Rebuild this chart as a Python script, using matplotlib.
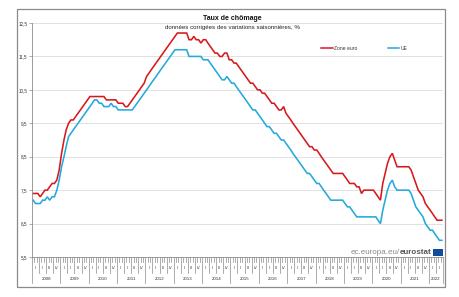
import numpy as np
import pandas as pd
import matplotlib
matplotlib.use("Agg")
import matplotlib.pyplot as plt
import matplotlib.dates as mdates
from matplotlib.lines import Line2D
from matplotlib.patches import Rectangle

plt.rcParams["font.family"] = ["Liberation Sans", "DejaVu Sans"]

# ── Data (monthly, Jan 2008 – Jun 2022) ──────────────────────────────────────
zone_euro = [
    7.4, 7.4, 7.4, 7.3, 7.4, 7.5, 7.5, 7.6, 7.7, 7.7, 7.8, 8.1,          # 2008
    8.6, 9.0, 9.3, 9.5, 9.6, 9.6, 9.7, 9.8, 9.9, 10.0, 10.1, 10.2,       # 2009
    10.3, 10.3, 10.3, 10.3, 10.3, 10.3, 10.3, 10.2, 10.2, 10.2, 10.2, 10.2,  # 2010
    10.1, 10.1, 10.1, 10.0, 10.0, 10.1, 10.2, 10.3, 10.4, 10.5, 10.6, 10.7,  # 2011
    10.9, 11.0, 11.1, 11.2, 11.3, 11.4, 11.5, 11.6, 11.7, 11.8, 11.9, 12.0,  # 2012
    12.1, 12.2, 12.2, 12.2, 12.2, 12.2, 12.0, 12.0, 12.1, 12.0, 12.0, 11.9,  # 2013
    12.0, 12.0, 11.9, 11.8, 11.7, 11.6, 11.6, 11.5, 11.5, 11.6, 11.6, 11.4,  # 2014
    11.4, 11.3, 11.3, 11.2, 11.1, 11.0, 10.9, 10.8, 10.7, 10.7, 10.6, 10.5,  # 2015
    10.5, 10.4, 10.4, 10.3, 10.2, 10.1, 10.1, 10.0, 9.9, 9.9, 10.0, 9.8,     # 2016
    9.7, 9.6, 9.5, 9.4, 9.3, 9.2, 9.1, 9.0, 8.9, 8.8, 8.8, 8.7,          # 2017
    8.7, 8.6, 8.5, 8.4, 8.3, 8.2, 8.1, 8.0, 8.0, 8.0, 8.0, 8.0,          # 2018
    7.9, 7.8, 7.7, 7.7, 7.7, 7.6, 7.6, 7.4, 7.5, 7.5, 7.5, 7.5,          # 2019
    7.5, 7.4, 7.3, 7.2, 7.7, 8.0, 8.3, 8.5, 8.6, 8.4, 8.2, 8.2,          # 2020
    8.2, 8.2, 8.2, 8.2, 8.1, 7.9, 7.7, 7.5, 7.4, 7.3, 7.1, 7.0,          # 2021
    6.9, 6.8, 6.7, 6.6, 6.6, 6.6,                                        # 2022
]
ue = [
    7.2, 7.1, 7.1, 7.1, 7.2, 7.2, 7.3, 7.2, 7.3, 7.3, 7.5, 7.8,          # 2008
    8.2, 8.5, 8.8, 9.1, 9.2, 9.3, 9.4, 9.5, 9.6, 9.7, 9.8, 9.9,          # 2009
    10.0, 10.1, 10.2, 10.2, 10.1, 10.1, 10.0, 10.0, 10.0, 10.1, 10.0, 10.0,  # 2010
    9.9, 9.9, 9.9, 9.9, 9.9, 9.9, 9.9, 10.0, 10.1, 10.2, 10.3, 10.4,     # 2011
    10.5, 10.6, 10.7, 10.8, 10.9, 11.0, 11.1, 11.2, 11.3, 11.4, 11.5, 11.6,  # 2012
    11.7, 11.7, 11.7, 11.7, 11.7, 11.7, 11.5, 11.5, 11.5, 11.5, 11.5, 11.5,  # 2013
    11.4, 11.4, 11.4, 11.3, 11.2, 11.1, 11.0, 10.9, 10.8, 10.8, 10.9, 10.8,  # 2014
    10.7, 10.7, 10.6, 10.5, 10.4, 10.3, 10.2, 10.1, 10.0, 9.9, 9.9, 9.8,     # 2015
    9.7, 9.6, 9.5, 9.4, 9.4, 9.3, 9.2, 9.2, 9.1, 9.0, 9.0, 8.9,          # 2016
    8.8, 8.7, 8.6, 8.5, 8.4, 8.3, 8.2, 8.1, 8.0, 8.0, 7.9, 7.8,          # 2017
    7.7, 7.7, 7.6, 7.5, 7.4, 7.3, 7.2, 7.2, 7.2, 7.2, 7.2, 7.2,          # 2018
    7.1, 7.0, 7.0, 6.9, 6.8, 6.7, 6.7, 6.7, 6.7, 6.7, 6.7, 6.7,          # 2019
    6.7, 6.7, 6.6, 6.5, 6.9, 7.2, 7.5, 7.7, 7.8, 7.6, 7.5, 7.5,          # 2020
    7.5, 7.5, 7.5, 7.5, 7.4, 7.2, 7.0, 6.9, 6.8, 6.7, 6.5, 6.4,          # 2021
    6.3, 6.3, 6.2, 6.1, 6.0, 6.0,                                        # 2022
]
years = list(range(2008, 2023))
quarters = ["I", "II", "III", "IV"]
y_ticks = [5.5, 6.5, 7.5, 8.5, 9.5, 10.5, 11.5, 12.5]

RED = "#d7191c"
BLUE = "#25a9dc"
GREY = "#8c8c8c"

months = pd.date_range("2008-01-01", periods=len(zone_euro), freq="MS")
x = months + pd.Timedelta(days=15)
x_end = pd.Timestamp("2022-07-01")

# ── Figure ───────────────────────────────────────────────────────────────────
W, H = 460, 297
fig = plt.figure(figsize=(W / 100, H / 100), dpi=100)
fig.patches.append(Rectangle((17 / W, 1 - 287 / H), 428 / W, 278 / H,
                             transform=fig.transFigure, fill=False,
                             ec="#8a8a8a", lw=0.9))

ax_h = 234
ax = fig.add_axes([32 / W, 1 - 257 / H, 411 / W, ax_h / H])
ax.plot(x, zone_euro, color=RED, lw=1.15, solid_joinstyle="miter")
ax.plot(x, ue, color=BLUE, lw=1.15, solid_joinstyle="miter")

ax.set_xlim(months[0], x_end)
ax.set_ylim(5.5, 12.5)
ax.set_yticks(y_ticks)
ax.set_yticklabels([f"{v:.1f}".replace(".", ",") for v in y_ticks])
ax.tick_params(axis="y", length=2, width=0.5, color=GREY, labelsize=3.3,
               pad=1.2, labelcolor="#333333")
ax.set_xticks([])
ax.grid(axis="y", color="#dcdcdc", lw=0.6)
ax.set_axisbelow(True)
for s in ("top", "right"):
    ax.spines[s].set_visible(False)
for s in ("left", "bottom"):
    ax.spines[s].set_color(GREY)
    ax.spines[s].set_linewidth(0.6)

# ── Ruler-style time axis ────────────────────────────────────────────────────
trans = ax.get_xaxis_transform()
edges = pd.date_range(months[0], x_end, freq="MS")
for d in edges:
    xd = mdates.date2num(d)
    if d.month == 1 or d == x_end:
        ln = 26
    elif d.month in (4, 7, 10):
        ln = 16
    else:
        ln = 5
    ax.plot([xd, xd], [0, -ln / ax_h], transform=trans, color=GREY,
            lw=0.5, clip_on=False)

for yr in years:
    for qi, q in enumerate(quarters):
        q_start = pd.Timestamp(yr, 3 * qi + 1, 1)
        if q_start >= x_end:
            break
        q_mid = q_start + pd.Timedelta(days=45)
        ax.text(mdates.date2num(q_mid), -11 / ax_h, q, transform=trans,
                ha="center", va="center", fontsize=2.8, color="#333333")
    y_start = pd.Timestamp(yr, 1, 1)
    y_stop = min(pd.Timestamp(yr + 1, 1, 1), x_end)
    y_mid = y_start + (y_stop - y_start) / 2
    ax.text(mdates.date2num(y_mid), -21.5 / ax_h, str(yr), transform=trans,
            ha="center", va="center", fontsize=3.2, color="#333333")

# ── Titles ───────────────────────────────────────────────────────────────────
fig.text(232 / W, 1 - 19 / H, "Taux de chômage", ha="center", va="center",
         fontsize=5.0, fontweight="bold", color="#111111")
fig.text(232 / W, 1 - 27.3 / H,
         "données corrigées des variations saisonnières, %",
         ha="center", va="center", fontsize=4.4, color="#222222")

# ── Legend ───────────────────────────────────────────────────────────────────
ly = 1 - 48 / H
fig.add_artist(Line2D([321.5 / W, 333 / W], [ly, ly], color=RED, lw=1.1))
fig.text(334.5 / W, ly, "Zone euro", ha="left", va="center", fontsize=3.6,
         color="#333333")
fig.add_artist(Line2D([388 / W, 399.5 / W], [ly, ly], color=BLUE, lw=1.1))
fig.text(401 / W, ly, "UE", ha="left", va="center", fontsize=3.6,
         color="#333333")

# ── Source mark ──────────────────────────────────────────────────────────────
t1 = fig.text(432 / W, 1 - 252.5 / H, "eurostat", ha="right", va="center",
              fontsize=5.8, fontweight="bold", color="#555555")
fig.text(0, 0, "ec.europa.eu/", ha="right", va="bottom", fontsize=5.8,
         color="#8a8a8a", transform=t1.get_transform())
fig.canvas.draw()
bb = t1.get_window_extent()
fig.texts[-1].set_position(((bb.x0 - 0.3) / W, bb.y0 / H))
fig.texts[-1].set_transform(fig.transFigure)
fig.patches.append(Rectangle((433 / W, 1 - 256 / H), 10 / W, 7 / H,
                             transform=fig.transFigure, fc="#124a9c",
                             ec="none"))

fig.savefig("out.png", dpi=100)
